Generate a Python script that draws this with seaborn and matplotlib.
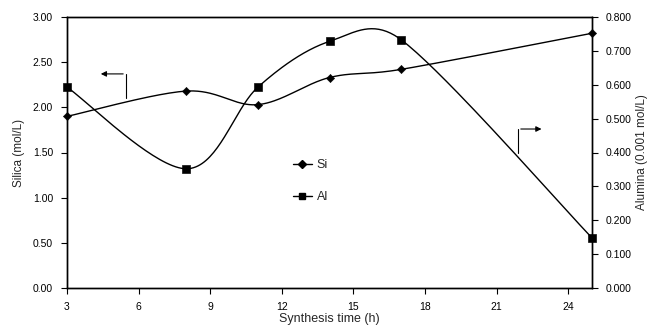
import numpy as np
import pandas as pd
import matplotlib
matplotlib.use("Agg")
import matplotlib.pyplot as plt
import seaborn as sns
from matplotlib.lines import Line2D

time_h = [3, 8, 11, 14, 17, 25]
silica = [1.90, 2.18, 2.03, 2.33, 2.42, 2.82]
alumina = [0.593, 0.352, 0.593, 0.728, 0.733, 0.148]
x_ticks = [3, 6, 9, 12, 15, 18, 21, 24]

sns.set_theme(style="white")
plt.rcParams['font.family'] = ['Liberation Sans', 'DejaVu Sans']

fig = plt.figure(figsize=(6.5, 3.29), dpi=100)
ax = fig.add_axes([67/650, 41/329, 525/650, 271/329])
ax2 = ax.twinx()

XMIN, XMAX = 3, 25
W, H = 525.0, 271.0


def smooth(xs, ys, ymax, n=40, clamp=0.5):
    # Catmull-Rom style smoothing in screen-proportional space, arms clamped
    px = np.array([(x - XMIN) / (XMAX - XMIN) * W for x in xs])
    py = np.array([y / ymax * H for y in ys])
    P = np.stack([px, py], axis=1)
    m = len(P)

    def arm(v, seg_len):
        L = np.linalg.norm(v)
        lim = clamp * seg_len
        return v * (lim / L) if L > lim and L > 0 else v

    outx, outy = [], []
    for i in range(m - 1):
        p0 = P[i - 1] if i > 0 else P[i]
        p1, p2 = P[i], P[i + 1]
        p3 = P[i + 2] if i + 2 < m else P[i + 1]
        seg = np.linalg.norm(p2 - p1)
        c1 = p1 + arm((p2 - p0) / 6, seg)
        c2 = p2 - arm((p3 - p1) / 6, seg)
        t = np.linspace(0, 1, n)[:, None]
        b = (1-t)**3*p1 + 3*(1-t)**2*t*c1 + 3*(1-t)*t**2*c2 + t**3*p2
        outx.extend(b[:, 0]); outy.extend(b[:, 1])
    outx = np.array(outx) / W * (XMAX - XMIN) + XMIN
    outy = np.array(outy) / H * ymax
    return outx, outy

sx, sy = smooth(time_h, silica, 3.0)
ax.plot(sx, sy, color='black', lw=1.0, zorder=3)
df = pd.DataFrame({'t': time_h, 'si': silica, 'al': alumina})
sns.scatterplot(data=df, x='t', y='si', ax=ax, marker='D', s=18, color='black',
                edgecolor='black', zorder=4, clip_on=False)

axx, ayy = smooth(time_h, alumina, 0.8)
ax2.plot(axx, ayy, color='black', lw=1.0, zorder=3)
sns.scatterplot(data=df, x='t', y='al', ax=ax2, marker='s', s=32, color='black',
                edgecolor='black', zorder=4, clip_on=False)

ax.set_xlim(XMIN, XMAX)
ax.set_ylim(0, 3.0)
ax2.set_ylim(0, 0.8)
ax.set_xticks(x_ticks)
ax.set_xticklabels([str(v) for v in x_ticks])
ax.set_yticks(np.arange(0, 3.01, 0.5))
ax.set_yticklabels([f"{v:.2f}" for v in np.arange(0, 3.01, 0.5)])
ax2.set_yticks(np.arange(0, 0.801, 0.1))
ax2.set_yticklabels([f"{v:.3f}" for v in np.arange(0, 0.801, 0.1)])

for a in (ax, ax2):
    for s in a.spines.values():
        s.set_color('black'); s.set_linewidth(1.0)
    a.tick_params(direction='out', length=4, width=0.8, colors='black', labelsize=7.5, pad=6)
ax.set_xlabel('Synthesis time (h)', fontsize=9, labelpad=1)
ax.set_ylabel('Silica (mol/L)', fontsize=8.5, labelpad=6)
ax2.set_ylabel('Alumina (0.001 mol/L)', fontsize=8.5, labelpad=3)
ax.tick_params(axis='both', which='both', bottom=True, left=True)
ax2.tick_params(axis='y', right=True)

# arrows indicating axes
ax.plot([5.47, 5.47], [2.10, 2.37], color='black', lw=0.8)
ax.annotate('', xy=(4.3, 2.37), xytext=(5.47, 2.37),
            arrowprops=dict(arrowstyle='-|>', color='black', lw=0.8, mutation_scale=8))
ax.plot([21.9, 21.9], [1.49, 1.76], color='black', lw=0.8)
ax.annotate('', xy=(23.0, 1.76), xytext=(21.9, 1.76),
            arrowprops=dict(arrowstyle='-|>', color='black', lw=0.8, mutation_scale=8))

handles = [Line2D([], [], color='black', lw=1.0, marker='D', markersize=4),
           Line2D([], [], color='black', lw=1.0, marker='s', markersize=5)]
leg = ax.legend(handles, ['Si', 'Al'], loc='center left', bbox_to_anchor=(0.43, 0.393),
                frameon=False, fontsize=9, handlelength=1.5, handletextpad=0.4,
                labelspacing=1.6, borderaxespad=0, borderpad=0)

fig.savefig('out.png', dpi=100)
